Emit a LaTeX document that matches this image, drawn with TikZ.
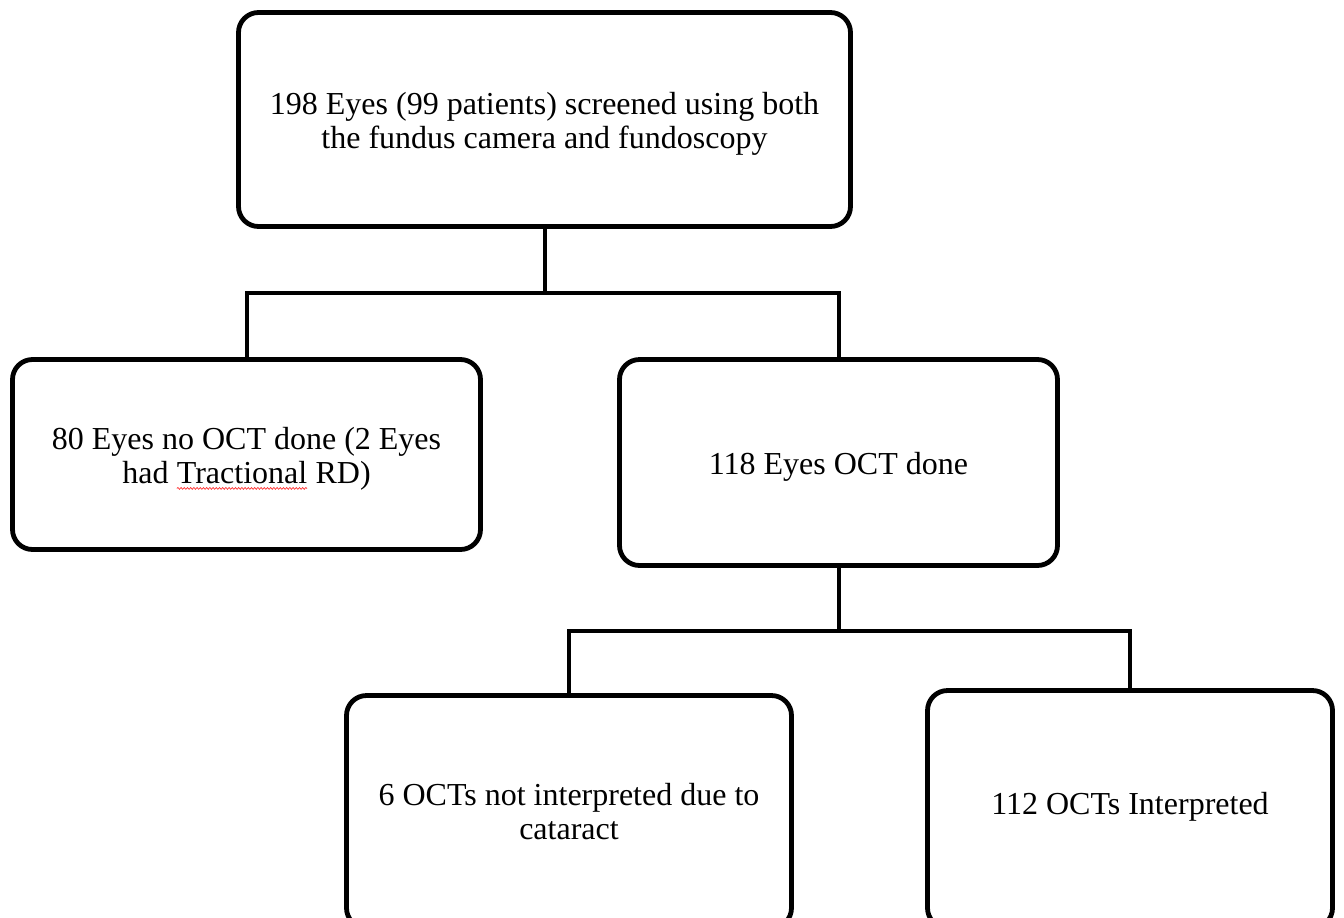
\documentclass[tikz,border=0pt]{standalone}
\usepackage{fontspec}
\setmainfont{Liberation Serif}
\usetikzlibrary{decorations.pathmorphing}
\newcommand\spellwave[1]{\tikz[baseline=(w.base)]{\node[draw=none,fill=none,inner sep=0pt,outer sep=0pt,rounded corners=0pt,minimum width=0pt,minimum height=0pt] (w) {#1};
  \draw[draw=red!80, line width=0.35pt, rounded corners=0pt, decorate, decoration={snake,amplitude=0.45pt,segment length=1.6pt}] ([yshift=-2.6pt]w.base west) -- ([yshift=-2.6pt]w.base east);}}
\tikzset{
  box/.style={draw=black, line width=2.4pt, rounded corners=10pt, fill=white, inner sep=0pt},
  txt/.style={align=center, inner sep=0pt, yshift=-2pt, font=\fontsize{16}{17}\selectfont},
  link/.style={draw=black, line width=2pt}
}
\begin{document}
\begin{tikzpicture}[x=0.5pt,y=-0.5pt]
\useasboundingbox (0,0) rectangle (1344,917);
\clip (0,0) rectangle (1344,917);
\node[box, minimum width=306pt, minimum height=107pt] (b1) at (544.5,119.5) {};
\node[txt] (t1) at (b1.center)
  {198 Eyes (99 patients) screened using both\\the fundus camera and fundoscopy};
\node[box, minimum width=234pt, minimum height=95pt] (b2) at (246.5,454.5) {};
\node[txt] (t2) at (b2.center)
  {80 Eyes no OCT done (2 Eyes\\had \spellwave{Tractional} RD)};
\node[box, minimum width=219pt, minimum height=103pt] (b3) at (838.5,462.5) {};
\node[txt] (t3) at (b3.center) {118 Eyes OCT done};
\node[box, minimum width=222.5pt, minimum height=116.25pt] (b4) at (569,811.75) {};
\node[txt] (t4) at (569,807.5) {6 OCTs not interpreted due to\\cataract};
\node[box, minimum width=202.5pt, minimum height=118.75pt] (b5) at (1130,809.25) {};
\node[txt] (t5) at (1130,803) {112 OCTs Interpreted};
\coordinate (j1) at (544.5,293);
\coordinate (j2) at (838.5,631);
\draw[link] (b1.south) -- (j1);
\draw[link] (b2.north) |- (j1) -| (b3.north);
\draw[link] (b3.south) -- (j2);
\draw[link] (b4.north) |- (j2) -| (b5.north);
\end{tikzpicture}
\end{document}
